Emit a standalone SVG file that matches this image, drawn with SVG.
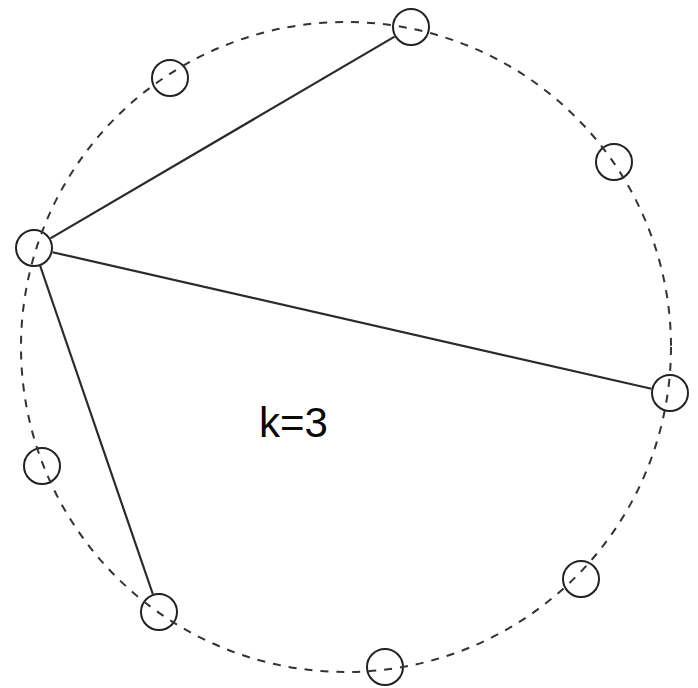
<svg xmlns="http://www.w3.org/2000/svg" width="698" height="688" viewBox="0 0 698 688">
<style>
.node{fill:none;stroke:#222;stroke-width:2}
.ring{fill:none;stroke:#333;stroke-width:2;stroke-dasharray:8 8}
.edge{stroke:#2a2a2a;stroke-width:2.2;fill:none}
.lbl{font-family:"Liberation Sans",Arial,sans-serif;font-size:42px;fill:#0a0a0a}
</style>
<rect width="698" height="688" fill="#fff"/>
<g id="n1"><circle class="node" cx="34" cy="248" r="18"/></g>
<g id="n2"><circle class="node" cx="411" cy="27" r="18"/></g>
<g id="n3"><circle class="node" cx="614" cy="162" r="18"/></g>
<g id="n4"><circle class="node" cx="670" cy="393" r="18"/></g>
<g id="n5"><circle class="node" cx="581" cy="579" r="18"/></g>
<g id="n6"><circle class="node" cx="385" cy="667" r="18"/></g>
<g id="n7"><circle class="node" cx="159" cy="612" r="18"/></g>
<g id="n8"><circle class="node" cx="42" cy="466" r="18"/></g>
<g id="n9"><circle class="node" cx="170" cy="78" r="18"/></g>
<g id="connectors">
<circle class="ring" cx="346" cy="347" r="325"/>
<line class="edge" x1="50.4" y1="238.4" x2="394.6" y2="36.6"/>
<line class="edge" x1="52.5" y1="252.2" x2="651.5" y2="388.8"/>
<line class="edge" x1="40.2" y1="266" x2="152.8" y2="594"/>
</g>
<text class="lbl" x="259" y="437">k=3</text>
</svg>
